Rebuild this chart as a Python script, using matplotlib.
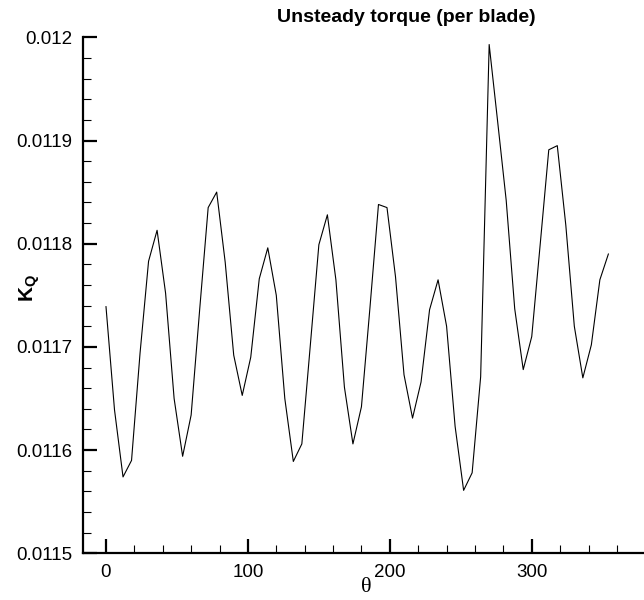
import matplotlib
matplotlib.use("Agg")
import matplotlib.pyplot as plt
from matplotlib.ticker import MultipleLocator

theta = list(range(0, 360, 6))
kq = [0.011739, 0.011639, 0.011574, 0.011590, 0.011694, 0.011783, 0.011813, 0.011752,
      0.011650, 0.011594, 0.011634, 0.011736, 0.011835, 0.011850, 0.011782, 0.011692,
      0.011653, 0.011690, 0.011766, 0.011796, 0.011750, 0.011650, 0.011589, 0.011606,
      0.011702, 0.011799, 0.011828, 0.011765, 0.011661, 0.011606, 0.011642, 0.011738,
      0.011838, 0.011835, 0.011768, 0.011673, 0.011631, 0.011666, 0.011736, 0.011765,
      0.011720, 0.011623, 0.011561, 0.011578, 0.011671, 0.011993, 0.011918, 0.011842,
      0.011737, 0.011678, 0.011710, 0.011800, 0.011891, 0.011895, 0.011818, 0.011720,
      0.011670, 0.011702, 0.011765, 0.011790]

title = "Unsteady torque (per blade)"
xlabel = "θ"
ylabel = r"$\mathbf{K_Q}$"

plt.rcParams['font.family'] = ['Liberation Sans', 'DejaVu Sans']
plt.rcParams['mathtext.fontset'] = 'custom'
plt.rcParams['mathtext.rm'] = 'Liberation Sans'
plt.rcParams['mathtext.bf'] = 'Liberation Sans:bold'

fig = plt.figure(figsize=(6.44, 6.0), dpi=100)
ax = fig.add_axes([83/644, 46.7/600, 1 - 83/644, (553.3 - 37.3)/600])
ax.plot(theta, kq, color='black', linewidth=0.8)

ax.set_xlim(-16.2, 379.1)
ax.set_ylim(0.0115, 0.012)
for s in ['top', 'right']:
    ax.spines[s].set_visible(False)
for s in ['left', 'bottom']:
    ax.spines[s].set_linewidth(1.6)

ax.xaxis.set_major_locator(MultipleLocator(100))
ax.xaxis.set_minor_locator(MultipleLocator(20))
ax.yaxis.set_major_locator(MultipleLocator(0.0001))
ax.yaxis.set_minor_locator(MultipleLocator(0.00002))
ax.yaxis.set_major_formatter(plt.FuncFormatter(lambda v, p: ('%.4f' % v).rstrip('0')))

ax.tick_params(which='major', direction='in', length=10, width=1.6, labelsize=13.5, pad=8)
ax.tick_params(which='minor', direction='in', length=6, width=0.8)
ax.tick_params(axis='x', which='both', top=False)
ax.tick_params(axis='y', which='both', right=False)

fig.text(366/644, 1 - 588/600, xlabel, fontsize=16, family=['Liberation Serif', 'DejaVu Serif'],
         ha='center', va='center')
fig.text(30/644, 1 - 288/600, ylabel, fontsize=15, rotation=90, ha='center', va='center')
fig.text(406/644, 1 - 17/600, title, fontsize=14, fontweight='bold', ha='center', va='center')

fig.savefig("out.png", dpi=100)
